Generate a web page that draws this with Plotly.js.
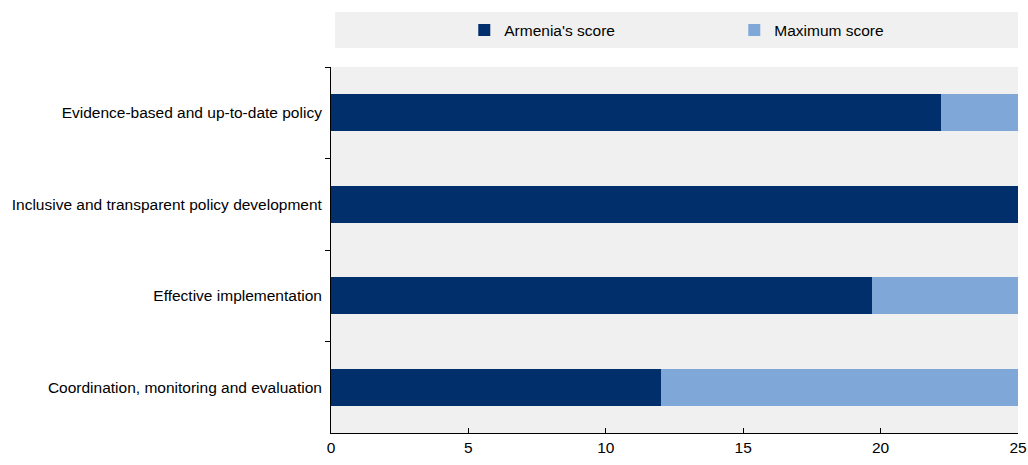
<!DOCTYPE html>
<html>
<head>
<meta charset="utf-8">
<script src="https://cdn.plot.ly/plotly-3.0.1.min.js"></script>
<style>html,body{margin:0;padding:0;background:#fff;}#chart{width:1028px;height:465px;}</style>
</head>
<body>
<div id="chart"></div>
<script>
const categories = [
  "Evidence-based and up-to-date policy",
  "Inclusive and transparent policy development",
  "Effective implementation",
  "Coordination, monitoring and evaluation"
];
const armeniaScore = [22.2, 25, 19.7, 12.0];
const maxPoints = 25;
const remainder = armeniaScore.map(v => +(maxPoints - v).toFixed(2));
const seriesNames = ["Armenia's score", "Maximum score"];
const xTicks = [0, 5, 10, 15, 20, 25];

const FS = 15.5;
const font = {family: "Liberation Sans, Arial, sans-serif", size: FS, color: "#000"};

const traces = [
  {type: "bar", orientation: "h", name: seriesNames[0], y: categories, x: armeniaScore,
   marker: {color: "#002F6C", line: {width: 0}}, hoverinfo: "x+y"},
  {type: "bar", orientation: "h", name: seriesNames[1], y: categories, x: remainder,
   marker: {color: "#7FA8D9", line: {width: 0}}, hoverinfo: "x+y"}
];

const layout = {
  width: 1028, height: 465,
  margin: {l: 331, r: 10, t: 67, b: 32, pad: 0},
  barmode: "stack",
  bargap: 0.6,
  paper_bgcolor: "#ffffff",
  plot_bgcolor: "#F0F0F0",
  font: font,
  showlegend: true,
  legend: {
    orientation: "h", traceorder: "normal", x: 0.194, xanchor: "left", y: 1.10, yanchor: "middle",
    bgcolor: "rgba(0,0,0,0)", font: {family: font.family, size: FS, color: "#000"},
    entrywidth: 225, entrywidthmode: "pixels", itemwidth: 30
  },
  shapes: [
    {type: "rect", xref: "paper", yref: "paper", x0: 0.006, x1: 1, y0: 1.052, y1: 1.15,
     fillcolor: "#F0F0F0", line: {width: 0}, layer: "below"}
  ],
  xaxis: {
    range: [0, 25], tickvals: xTicks, ticktext: xTicks.map(String),
    showgrid: false, zeroline: false, showline: true, linecolor: "#000", linewidth: 1,
    ticks: "inside", ticklen: 5, tickcolor: "#000", tickfont: {size: FS},
    fixedrange: true
  },
  yaxis: {
    type: "category", autorange: "reversed", showgrid: false, zeroline: false,
    showline: true, linecolor: "#000", linewidth: 1,
    ticks: "outside", ticklen: 5, tickcolor: "#000", tickson: "boundaries",
    ticklabelstandoff: 5, tickfont: {size: FS}, fixedrange: true
  }
};

Plotly.newPlot("chart", traces, layout, {displayModeBar: false, staticPlot: true});
</script>
</body>
</html>
